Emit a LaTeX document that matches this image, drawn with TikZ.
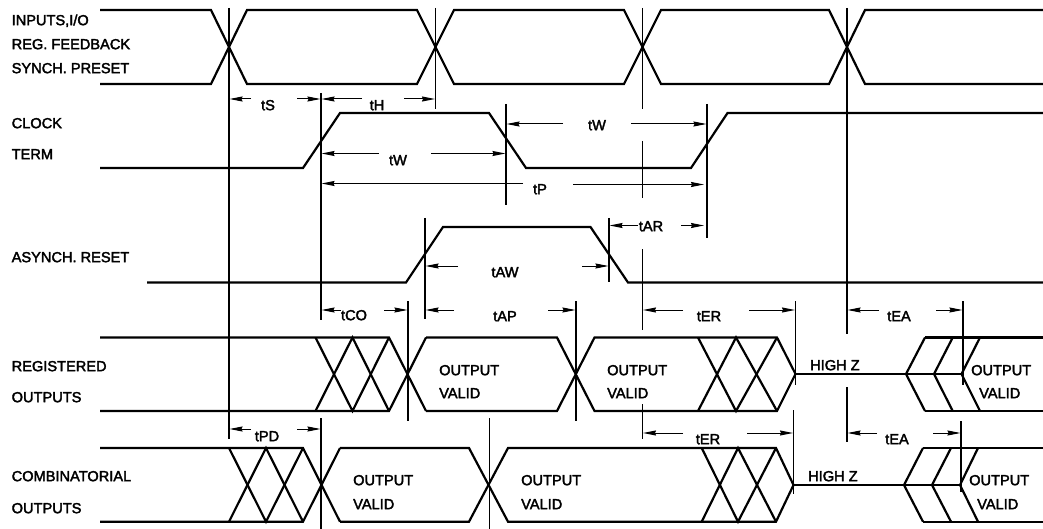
\documentclass[tikz,border=0pt]{standalone}
\usepackage{fontspec}
\setmainfont{Liberation Sans}[FakeBold=2.4]
\usetikzlibrary{arrows.meta}
\tikzset{
  sig/.style={line width=2.2pt,line join=miter,miter limit=10},
  vline/.style={line width=1.25pt},
  dimline/.style={line width=1pt,-{Stealth[length=13pt,width=5pt,inset=1pt]}},
  lbl/.style={anchor=west,inner sep=0pt,font=\fontsize{14.6}{16}\selectfont,text height=10.4pt,text depth=0pt},
  dimlbl/.style={anchor=center,inner sep=0pt,font=\fontsize{14.6}{16}\selectfont,text height=10.4pt,text depth=0pt},
}
\begin{document}
\begin{tikzpicture}[x=1pt,y=-1pt]
\useasboundingbox (0,0) rectangle (1043,529);
% input bus
\draw[sig] (100,10) -- (211,10) -- (247,84) -- (417,84) -- (454,10) -- (624,10) -- (661,84) -- (829,84) -- (865,10) -- (1043,10);
\draw[sig] (100,84) -- (211,84) -- (247,10) -- (417,10) -- (454,84) -- (624,84) -- (661,10) -- (829,10) -- (865,84) -- (1043,84);
% clock
\draw[sig] (100,168) -- (303,168) -- (340,113) -- (489,113) -- (526,168) -- (691,168) -- (727.5,113) -- (1043,113);
% reset
\draw[sig] (147,282.5) -- (406,282.5) -- (443,227) -- (590.5,227) -- (628,282.5) -- (1043,282.5);
% registered
\draw[sig] (100,337.5) -- (389,337.5) -- (426,411);
\draw[sig] (100,411) -- (389,411) -- (426,337.5);
\draw[sig] (315.5,337.5) -- (352.5,411) -- (389,337.5);
\draw[sig] (315.5,411) -- (352.5,337.5) -- (389,411);
\draw[sig] (426,337.5) -- (557,337.5) -- (594.5,411) -- (777,411) -- (795.5,374);
\draw[sig] (426,411) -- (557,411) -- (594.5,337.5) -- (777,337.5) -- (795.5,374);
\draw[sig] (698,337.5) -- (736,411) -- (777,337.5);
\draw[sig] (698,411) -- (736,337.5) -- (777,411);
\draw[sig] (795.5,374) -- (961.5,374);
\draw[sig] (925,337.5) -- (906,374) -- (925,411);
\draw[sig] (952.7,337.5) -- (934,374) -- (952.7,411);
\draw[sig] (980,337.5) -- (961.5,374) -- (980,411);
\draw[sig] (925,337.5) -- (1043,337.5);
\draw[sig] (925,411) -- (1043,411);
% combinatorial
\draw[sig] (100,448) -- (303,448) -- (340,521.7);
\draw[sig] (100,521.7) -- (303,521.7) -- (340,448);
\draw[sig] (229,448) -- (266,521.7) -- (303,448);
\draw[sig] (229,521.7) -- (266,448) -- (303,521.7);
\draw[sig] (340,448) -- (469,448) -- (508,521.7) -- (776,521.7) -- (793.5,485);
\draw[sig] (340,521.7) -- (469,521.7) -- (508,448) -- (776,448) -- (793.5,485);
\draw[sig] (701.7,448) -- (738,521.7) -- (776,448);
\draw[sig] (701.7,521.7) -- (738,448) -- (776,521.7);
\draw[sig] (793.5,485) -- (960,485);
\draw[sig] (923,448) -- (904,485) -- (923,521.7);
\draw[sig] (951,448) -- (932,485) -- (951,521.7);
\draw[sig] (978,448) -- (960,485) -- (978,521.7);
\draw[sig] (923,448) -- (1043,448);
\draw[sig] (923,521.7) -- (1043,521.7);
% vertical reference lines
\foreach \x/\a/\b in {229/8/439, 321/93/320, 321/418/529, 435.5/8/109, 506/104/205, 425/218/319,
  642.5/8/109, 642.5/141/198, 642.5/249/330, 642.5/404/439, 707/104/238, 609/218/282,
  847/8/334, 847/387/442, 408/301/421, 576/301/421, 795.5/301/385, 793.5/410/494,
  963/301/385, 961/421/492, 489.5/418/529}
  \draw[vline] (\x,\a) -- (\x,\b);
% dimension arrows
\draw[dimline] (251,99) -- (229.5,99);   \draw[dimline] (297,99) -- (320.5,99);
\draw[dimline] (362,99) -- (321.5,99);   \draw[dimline] (404,99) -- (435,99);
\draw[dimline] (379,153.5) -- (321.5,153.5); \draw[dimline] (431,153.5) -- (505.5,153.5);
\draw[dimline] (563,124) -- (506.5,124); \draw[dimline] (631,124) -- (706.5,124);
\draw[dimline] (523,183.5) -- (321.5,183.5); \draw[dimline] (573,184.5) -- (704,184.5);
\draw[dimline] (638,225.5) -- (609.5,225.5); \draw[dimline] (681,225.5) -- (704,225.5);
\draw[dimline] (458,266) -- (425.5,266); \draw[dimline] (582,266) -- (608.5,266);
\draw[dimline] (454,310) -- (425.5,310); \draw[dimline] (548,310) -- (575.5,310);
\draw[dimline] (341,310) -- (321.5,310); \draw[dimline] (384,310) -- (407.5,310);
\draw[dimline] (683,310) -- (643,310);   \draw[dimline] (749,310) -- (795,310);
\draw[dimline] (879,310) -- (847.5,310); \draw[dimline] (936,310) -- (962.5,310);
\draw[dimline] (251,429) -- (229.5,429); \draw[dimline] (297,429) -- (320.5,429);
\draw[dimline] (683,433) -- (643,433);   \draw[dimline] (747,433) -- (793,433);
\draw[dimline] (877,433) -- (847.5,433); \draw[dimline] (933,433) -- (960.5,433);
% left labels
\node[lbl] (l1) at (11.5,20) {INPUTS,I/O};
\node[lbl] (l2) at (11.5,44) {REG. FEEDBACK};
\node[lbl] (l3) at (11.5,68) {SYNCH. PRESET};
\node[lbl] (l4) at (11.5,123) {CLOCK};
\node[lbl] (l5) at (11.5,154) {TERM};
\node[lbl] (l6) at (11.5,257) {ASYNCH. RESET};
\node[lbl] (l7) at (11.5,366) {REGISTERED};
\node[lbl] (l8) at (11.5,397) {OUTPUTS};
\node[lbl] (l9) at (11.5,476) {COMBINATORIAL};
\node[lbl] (l10) at (11.5,508) {OUTPUTS};
% timing labels
\node[dimlbl] (ts) at (268,105) {tS};
\node[dimlbl] (th) at (377,105) {tH};
\node[dimlbl] (tw1) at (398,160) {tW};
\node[dimlbl] (tw2) at (597,125) {tW};
\node[dimlbl] (tp) at (540,189) {tP};
\node[dimlbl] (tar) at (651,226) {tAR};
\node[dimlbl] (taw) at (505,272) {tAW};
\node[dimlbl] (tap) at (505,316) {tAP};
\node[dimlbl] (tco) at (354,315) {tCO};
\node[dimlbl] (ter1) at (709,316) {tER};
\node[dimlbl] (tea1) at (899,316) {tEA};
\node[dimlbl] (tpd) at (267,436) {tPD};
\node[dimlbl] (ter2) at (708,439) {tER};
\node[dimlbl] (tea2) at (897,439) {tEA};
% state labels
\node[lbl] (o1) at (439,370) {OUTPUT};  \node[lbl] (v1) at (439,393) {VALID};
\node[lbl] (o2) at (607,370) {OUTPUT};  \node[lbl] (v2) at (607,393) {VALID};
\node[lbl] (o3) at (971,370) {OUTPUT};  \node[lbl] (v3) at (979,393) {VALID};
\node[lbl] (o4) at (353,480) {OUTPUT};  \node[lbl] (v4) at (353,504) {VALID};
\node[lbl] (o5) at (521,480) {OUTPUT};  \node[lbl] (v5) at (521,504) {VALID};
\node[lbl] (o6) at (969,480) {OUTPUT};  \node[lbl] (v6) at (977,504) {VALID};
\node[lbl] (z1) at (810,365) {HIGH Z};
\node[lbl] (z2) at (808,476) {HIGH Z};
\end{tikzpicture}
\end{document}
